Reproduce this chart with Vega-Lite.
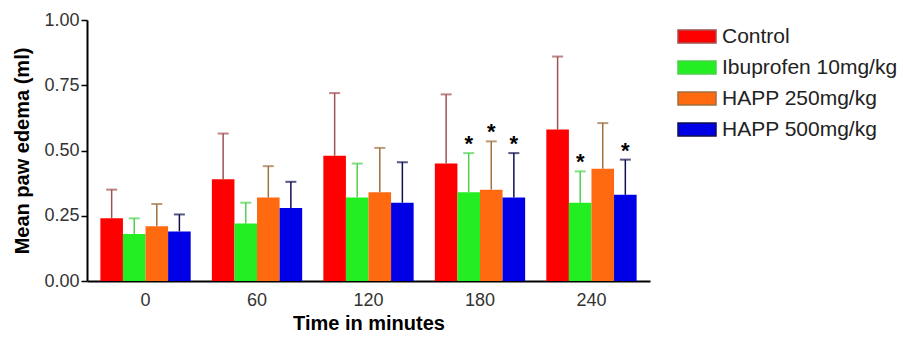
{
  "$schema": "https://vega.github.io/schema/vega-lite/v6.json",
  "width": 563,
  "height": 261,
  "autosize": {"type": "none"},
  "padding": {"left": 87, "top": 20, "right": 253, "bottom": 56},
  "background": "white",
  "config": {
    "view": {"stroke": null},
    "font": "Liberation Sans",
    "axisX": {"labelAngle": 0, "ticks": false, "domainColor": "#000", "domainWidth": 2, "labelFontSize": 18, "labelColor": "#333", "labelPadding": 10, "titleFontSize": 20, "titleFontWeight": "bold", "titleColor": "#000", "titlePadding": 4},
    "axisY": {"grid": false, "domainColor": "#000", "domainWidth": 2, "tickColor": "#000", "tickWidth": 1.5, "tickSize": 6, "labelFontSize": 18, "labelColor": "#333", "labelPadding": 2, "titleFontSize": 20, "titleFontWeight": "bold", "titleColor": "#000", "titlePadding": 11}
  },
  "data": {
    "values": [
      {"time": "0", "group": "Control", "value": 0.24, "upper": 0.35, "star": ""},
      {"time": "0", "group": "Ibuprofen 10mg/kg", "value": 0.18, "upper": 0.24, "star": ""},
      {"time": "0", "group": "HAPP 250mg/kg", "value": 0.21, "upper": 0.295, "star": ""},
      {"time": "0", "group": "HAPP 500mg/kg", "value": 0.19, "upper": 0.255, "star": ""},
      {"time": "60", "group": "Control", "value": 0.39, "upper": 0.565, "star": ""},
      {"time": "60", "group": "Ibuprofen 10mg/kg", "value": 0.22, "upper": 0.30, "star": ""},
      {"time": "60", "group": "HAPP 250mg/kg", "value": 0.32, "upper": 0.44, "star": ""},
      {"time": "60", "group": "HAPP 500mg/kg", "value": 0.28, "upper": 0.38, "star": ""},
      {"time": "120", "group": "Control", "value": 0.48, "upper": 0.72, "star": ""},
      {"time": "120", "group": "Ibuprofen 10mg/kg", "value": 0.32, "upper": 0.45, "star": ""},
      {"time": "120", "group": "HAPP 250mg/kg", "value": 0.34, "upper": 0.51, "star": ""},
      {"time": "120", "group": "HAPP 500mg/kg", "value": 0.30, "upper": 0.455, "star": ""},
      {"time": "180", "group": "Control", "value": 0.45, "upper": 0.715, "star": ""},
      {"time": "180", "group": "Ibuprofen 10mg/kg", "value": 0.34, "upper": 0.49, "star": "*"},
      {"time": "180", "group": "HAPP 250mg/kg", "value": 0.35, "upper": 0.535, "star": "*"},
      {"time": "180", "group": "HAPP 500mg/kg", "value": 0.32, "upper": 0.49, "star": "*"},
      {"time": "240", "group": "Control", "value": 0.58, "upper": 0.86, "star": ""},
      {"time": "240", "group": "Ibuprofen 10mg/kg", "value": 0.30, "upper": 0.42, "star": "*"},
      {"time": "240", "group": "HAPP 250mg/kg", "value": 0.43, "upper": 0.605, "star": ""},
      {"time": "240", "group": "HAPP 500mg/kg", "value": 0.33, "upper": 0.465, "star": "*"}
    ]
  },
  "encoding": {
    "x": {
      "field": "time", "type": "nominal", "sort": ["0", "60", "120", "180", "240"], "title": "Time in minutes",
      "scale": {"paddingInner": 0.19, "paddingOuter": 0.12}
    },
    "xOffset": {"field": "group", "type": "nominal", "sort": ["Control", "Ibuprofen 10mg/kg", "HAPP 250mg/kg", "HAPP 500mg/kg"], "scale": {"paddingInner": 0}}
  },
  "layer": [
    {
      "mark": {"type": "bar"},
      "encoding": {
        "y": {"field": "value", "type": "quantitative", "title": "Mean paw edema (ml)", "scale": {"domain": [0, 1]}, "axis": {"values": [0, 0.25, 0.5, 0.75, 1], "format": ".2f"}},
        "color": {
          "field": "group", "type": "nominal",
          "scale": {"domain": ["Control", "Ibuprofen 10mg/kg", "HAPP 250mg/kg", "HAPP 500mg/kg"], "range": ["#ff0000", "#22ee22", "#ff6a10", "#0000e6"]},
          "legend": {
            "title": null, "orient": "none", "legendX": 599.5, "legendY": 6, "padding": 0,
            "symbolType": "M-2,-0.68H2V0.68H-2Z", "symbolSize": 361,
            "labelFontSize": 21, "labelColor": "#222", "labelOffset": 14.5, "labelLimit": 0, "rowPadding": 9
          }
        }
      }
    },
    {
      "mark": {"type": "rule", "strokeWidth": 1.5},
      "encoding": {
        "y": {"field": "value", "type": "quantitative", "title": "Mean paw edema (ml)", "axis": {"values": [0, 0.25, 0.5, 0.75, 1], "format": ".2f"}},
        "y2": {"field": "upper"},
        "stroke": {"field": "group", "type": "nominal", "legend": null,
          "scale": {"domain": ["Control", "Ibuprofen 10mg/kg", "HAPP 250mg/kg", "HAPP 500mg/kg"], "range": ["#a05050", "#50d050", "#a07040", "#101050"]}}
      }
    },
    {
      "mark": {"type": "tick", "thickness": 2, "size": 11},
      "encoding": {
        "y": {"field": "upper", "type": "quantitative", "title": "Mean paw edema (ml)", "axis": {"values": [0, 0.25, 0.5, 0.75, 1], "format": ".2f"}},
        "fill": {"field": "group", "type": "nominal", "legend": null,
          "scale": {"domain": ["Control", "Ibuprofen 10mg/kg", "HAPP 250mg/kg", "HAPP 500mg/kg"], "range": ["#a05050", "#50d050", "#a07040", "#101050"]}}
      }
    },
    {
      "mark": {"type": "text", "fontSize": 22, "fontWeight": "bold", "baseline": "alphabetic", "dy": -2, "color": "#000"},
      "encoding": {
        "y": {"field": "upper", "type": "quantitative", "title": "Mean paw edema (ml)", "axis": {"values": [0, 0.25, 0.5, 0.75, 1], "format": ".2f"}},
        "text": {"field": "star"}
      }
    }
  ]
}
